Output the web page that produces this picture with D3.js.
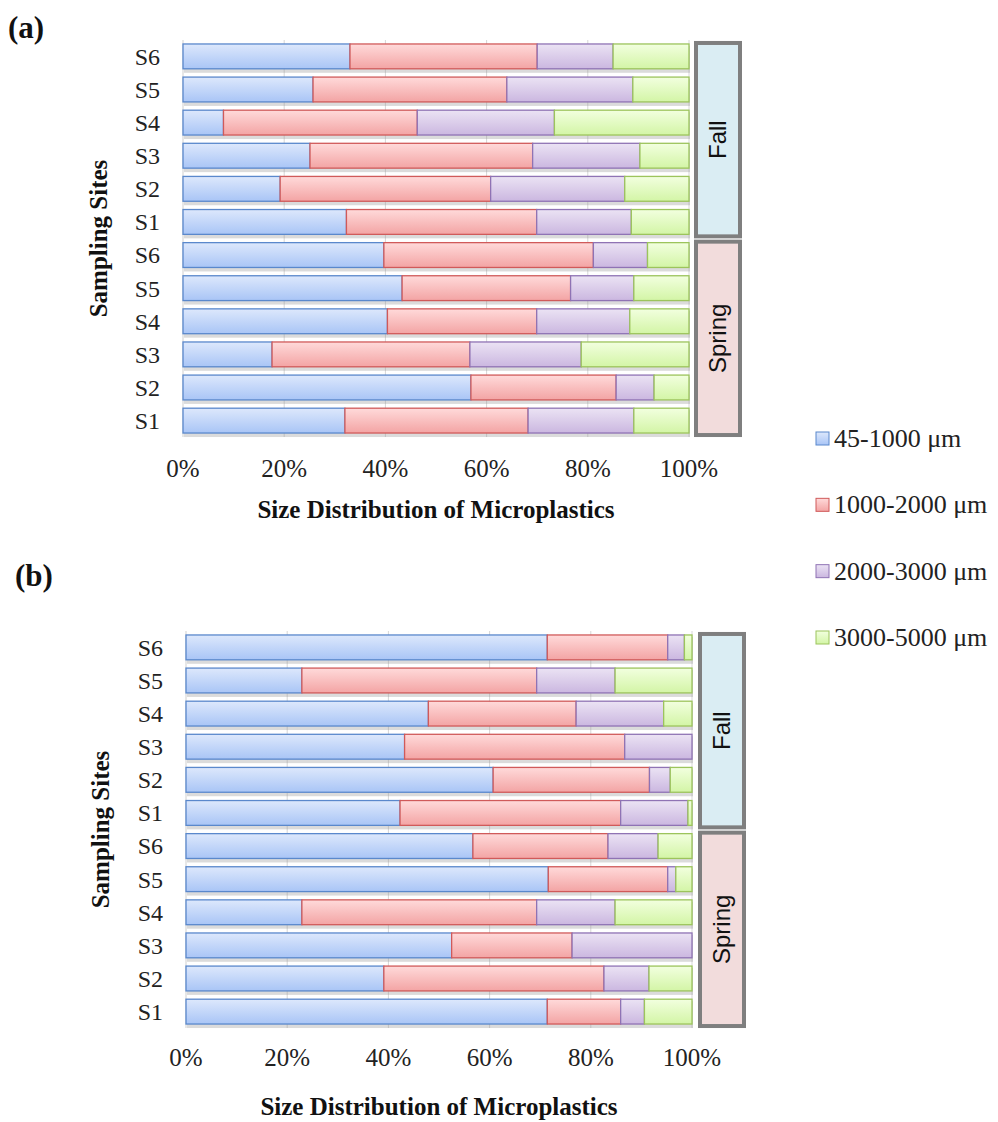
<!DOCTYPE html>
<html>
<head>
<meta charset="utf-8">
<script src="https://cdn.jsdelivr.net/npm/d3@7"></script>
<style>
  body { margin: 0; background: #fff; }
  svg text { font-family: "Liberation Serif", "Times New Roman", serif; fill: #222; }
</style>
</head>
<body>
<div id="chart"></div>
<script>
// rows top to bottom
var rows = ["Fall S6", "Fall S5", "Fall S4", "Fall S3", "Fall S2", "Fall S1",
            "Spring S6", "Spring S5", "Spring S4", "Spring S3", "Spring S2", "Spring S1"];
var seasons = ["Fall", "Spring"];
var sizeClasses = ["45-1000 μm", "1000-2000 μm", "2000-3000 μm", "3000-5000 μm"];
var ticks = [0, 0.2, 0.4, 0.6, 0.8, 1];

// panel (a)
var aSize1 = [33, 25.7, 8, 25.1, 19.2, 32.3, 39.7, 43.3, 40.4, 17.6, 56.9, 32];
var aSize2 = [37, 38.3, 38.3, 44, 41.6, 37.6, 41.4, 33.3, 29.5, 39.1, 28.7, 36.2];
var aSize3 = [15, 24.9, 27.1, 21.2, 26.5, 18.7, 10.7, 12.5, 18.4, 22, 7.5, 20.9];
var aSize4 = [15, 11.1, 26.6, 9.7, 12.7, 11.4, 8.2, 10.9, 11.7, 21.3, 6.9, 10.9];

// panel (b)
var bSize1 = [71.4, 22.9, 47.9, 43.2, 60.7, 42.3, 56.7, 71.6, 22.9, 52.5, 39.1, 71.4];
var bSize2 = [23.8, 46.4, 29.2, 43.5, 30.9, 43.6, 26.7, 23.6, 46.4, 23.8, 43.5, 14.5];
var bSize3 = [3.3, 15.5, 17.3, 13.3, 4.1, 13.3, 9.9, 1.6, 15.5, 23.7, 8.9, 4.7];
var bSize4 = [1.5, 15.2, 5.6, 0, 4.3, 0.8, 6.7, 3.2, 15.2, 0, 8.5, 9.4];

var fills = [["#dde8fc", "#a9c5f6", "#5a88cc"],
             ["#ffdada", "#f3a4a4", "#d05a5a"],
             ["#ebe3f4", "#cbb7e0", "#8f73b4"],
             ["#f2ffdf", "#d3f5a6", "#9cc45c"]];
var boxFills = { "Fall": "#daedf3", "Spring": "#f2dcdc" };

var w = 998, h = 1122;
var svg = d3.select("#chart").append("svg")
    .attr("width", w)
    .attr("height", h);

var defs = svg.append("defs");
fills.forEach(function (f, i) {
    var g = defs.append("linearGradient")
        .attr("id", "grad" + i)
        .attr("x1", 0).attr("y1", 0).attr("x2", 0).attr("y2", 1);
    g.append("stop").attr("offset", "0%").attr("stop-color", f[0]);
    g.append("stop").attr("offset", "100%").attr("stop-color", f[1]);
});

function drawPanel(opt) {
    var data = rows.map(function (r, i) {
        return { row: r, s0: opt.values[0][i], s1: opt.values[1][i], s2: opt.values[2][i], s3: opt.values[3][i] };
    });
    var stack = d3.stack().keys(["s0", "s1", "s2", "s3"]).offset(d3.stackOffsetExpand);
    var series = stack(data);

    var x = d3.scaleLinear().domain([0, 1]).range([opt.x0, opt.x1]);
    var y = d3.scaleBand().domain(rows).range([opt.y0, opt.y1])
        .paddingInner(0.25).paddingOuter(0.12);

    var g = svg.append("g");

    // gridlines
    g.selectAll(".grid")
        .data(ticks)
        .enter()
        .append("line")
        .attr("x1", d => x(d)).attr("x2", d => x(d))
        .attr("y1", opt.y0).attr("y2", opt.y1)
        .attr("stroke", d => d === 0 ? "#cfcfcf" : "#d6d6d6")
        .attr("stroke-width", 1);

    // bar shadows
    g.selectAll(".shadow")
        .data(data)
        .enter()
        .append("rect")
        .attr("x", x(0) + 1)
        .attr("y", d => y(d.row) + 2)
        .attr("width", x(1) - x(0))
        .attr("height", y.bandwidth() + 2)
        .attr("fill", "#999")
        .attr("opacity", 0.35);

    var layers = g.selectAll(".layer")
        .data(series)
        .enter()
        .append("g")
        .attr("fill", (d, i) => "url(#grad" + i + ")")
        .attr("stroke", (d, i) => fills[i][2])
        .attr("stroke-width", 1.3);

    layers.selectAll("rect")
        .data(d => d.filter(p => p[1] - p[0] > 0))
        .enter()
        .append("rect")
        .attr("x", d => x(d[0]))
        .attr("y", d => y(d.data.row))
        .attr("width", d => x(d[1]) - x(d[0]))
        .attr("height", y.bandwidth());

    // y tick labels
    g.selectAll(".ylab")
        .data(rows)
        .enter()
        .append("text")
        .attr("x", opt.x0 - 23)
        .attr("y", d => y(d) + y.bandwidth() / 2)
        .attr("dy", "0.35em")
        .attr("text-anchor", "end")
        .attr("font-size", 24)
        .text(d => d.split(" ")[1]);

    // x tick labels
    g.selectAll(".xlab")
        .data(ticks)
        .enter()
        .append("text")
        .attr("x", d => x(d))
        .attr("y", opt.tickY)
        .attr("text-anchor", "middle")
        .attr("font-size", 25)
        .text(d3.format(".0%"));

    g.append("text")
        .attr("x", (opt.x0 + opt.x1) / 2)
        .attr("y", opt.titleY)
        .attr("text-anchor", "middle")
        .attr("font-size", 25)
        .attr("font-weight", "bold")
        .style("fill", "#111")
        .text("Size Distribution of Microplastics");

    g.append("text")
        .attr("transform", "translate(" + opt.yTitleX + "," + (opt.y0 + opt.y1) / 2 + ") rotate(-90)")
        .attr("text-anchor", "middle")
        .attr("dy", "0.35em")
        .attr("font-size", 25)
        .attr("font-weight", "bold")
        .style("fill", "#111")
        .text("Sampling Sites");

    // season boxes
    seasons.forEach(function (s) {
        var sr = rows.filter(r => r.indexOf(s) === 0);
        var top = y(sr[0]) - 1, bot = y(sr[sr.length - 1]) + y.bandwidth() + 2;
        g.append("rect")
            .attr("x", opt.boxX)
            .attr("y", top)
            .attr("width", 44)
            .attr("height", bot - top)
            .attr("fill", boxFills[s])
            .attr("stroke", "#7f7f7f")
            .attr("stroke-width", 4);
        g.append("text")
            .attr("transform", "translate(" + (opt.boxX + 22) + "," + (top + bot) / 2 + ") rotate(-90)")
            .attr("text-anchor", "middle")
            .attr("dy", "0.35em")
            .attr("font-size", 24)
            .style("font-family", "'Liberation Sans', Arial, sans-serif")
            .style("fill", "#111")
            .text(s);
    });

    svg.append("text")
        .attr("x", opt.labelX)
        .attr("y", opt.labelY)
        .attr("font-size", 31)
        .attr("font-weight", "bold")
        .style("fill", "#111")
        .text(opt.label);
}

drawPanel({
    values: [aSize1, aSize2, aSize3, aSize4],
    x0: 183, x1: 689, y0: 40, y1: 437,
    tickY: 477, titleY: 518, yTitleX: 98, boxX: 696,
    label: "(a)", labelX: 8, labelY: 38
});

drawPanel({
    values: [bSize1, bSize2, bSize3, bSize4],
    x0: 186, x1: 692, y0: 631, y1: 1028,
    tickY: 1066, titleY: 1115, yTitleX: 100, boxX: 700,
    label: "(b)", labelX: 15, labelY: 586
});

// legend
var legend = svg.append("g");
var legendY = d3.scalePoint().domain(sizeClasses).range([438, 637]);
legend.selectAll("rect")
    .data(sizeClasses)
    .enter()
    .append("rect")
    .attr("x", 816)
    .attr("y", d => legendY(d) - 6)
    .attr("width", 13)
    .attr("height", 13)
    .attr("fill", (d, i) => "url(#grad" + i + ")")
    .attr("stroke", (d, i) => fills[i][2])
    .attr("stroke-width", 1);
legend.selectAll("text")
    .data(sizeClasses)
    .enter()
    .append("text")
    .attr("x", 834)
    .attr("y", d => legendY(d))
    .attr("dy", "0.35em")
    .attr("font-size", 26)
    .text(d => d);
</script>
</body>
</html>
